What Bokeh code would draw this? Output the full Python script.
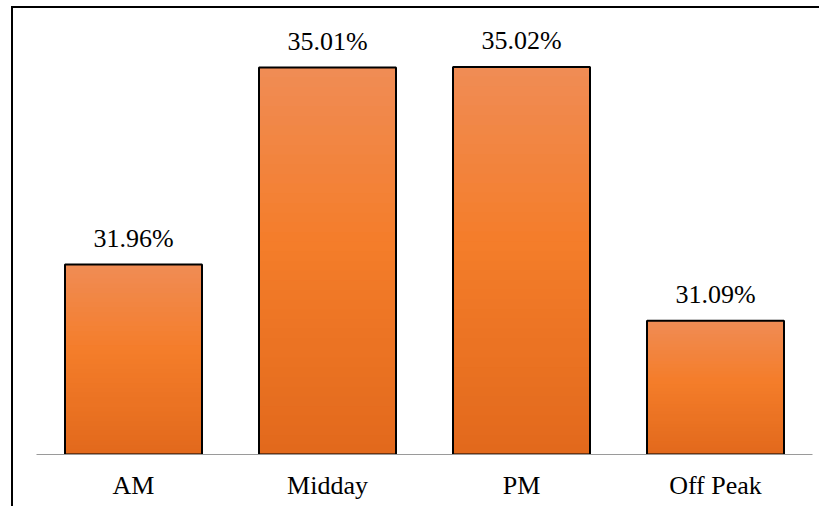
import numpy as np
from bokeh.plotting import figure
from bokeh.models import ColumnDataSource, Range1d, Label
from bokeh.embed import file_html
from bokeh.resources import INLINE

categories = ["AM", "Midday", "PM", "Off Peak"]
values = [31.96, 35.01, 35.02, 31.09]
labels = [f"{v:.2f}%" for v in values]

BASE = 29.02
FONT = "Liberation Serif"

p = figure(x_range=categories, y_range=Range1d(BASE, 35.924),
           width=808, height=500, output_backend="svg", toolbar_location=None,
           min_border_left=23, min_border_right=9, min_border_top=0,
           min_border_bottom=54)
p.margin = (6, 0, 0, 11)
p.styles = {"border-left": "2px solid #000000", "border-top": "2px solid #000000"}
p.outline_line_color = None
p.grid.visible = False
p.yaxis.visible = False
p.background_fill_color = "white"
p.border_fill_color = "white"

# gradient fill: each slice runs from its own bottom up to the bar top,
# drawn bottom-first so higher slices paint over lower ones (no seams)
stops_t = [0.0, 0.55, 1.0]
stops_c = [(0xE2, 0x69, 0x1C), (0xF4, 0x7D, 0x2A), (0xF0, 0x8C, 0x55)]
N = 40
xs, bottoms, tops, cols = [], [], [], []
for k in range(N):
    t = (k + 0.5) / N
    rgb = [int(round(np.interp(t, stops_t, [s[i] for s in stops_c]))) for i in range(3)]
    for c, v in zip(categories, values):
        xs.append(c)
        bottoms.append(BASE + (v - BASE) * k / N)
        tops.append(v)
        cols.append("#%02x%02x%02x" % tuple(rgb))
src = ColumnDataSource(dict(x=xs, bottom=bottoms, top=tops, color=cols))
p.vbar(x="x", bottom="bottom", top="top", width=0.706, source=src,
       fill_color="color", line_color=None)

main = ColumnDataSource(dict(x=categories, top=values, label=labels))
p.vbar(x="x", bottom=BASE, top="top", width=0.706, source=main,
       fill_color=None, line_color="black", line_width=2)

# value labels; x is the FactorRange synthetic centre of each category
for i, (v, lab) in enumerate(zip(values, labels)):
    p.add_layout(Label(x=i + 0.5, y=v, text=lab, text_align="center",
                       text_baseline="top", y_offset=41,
                       text_font=FONT, text_font_size="26px",
                       text_color="black"))

ax = p.xaxis[0]
ax.axis_line_color = "#9a9a9a"
ax.axis_line_width = 1
ax.major_tick_line_color = None
ax.minor_tick_line_color = None
ax.major_tick_out = 0
ax.major_tick_in = 0
ax.major_label_standoff = 16
ax.major_label_text_font = FONT
ax.major_label_text_font_size = "26px"
ax.major_label_text_color = "black"

open("out.html", "w").write(file_html(p, INLINE))
